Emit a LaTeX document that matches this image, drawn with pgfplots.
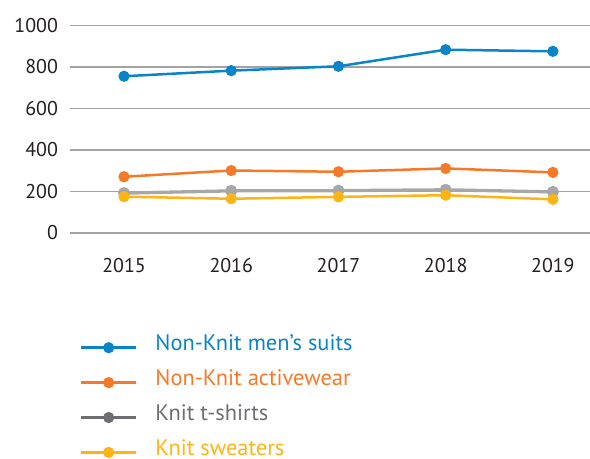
\documentclass[border=0pt]{standalone}
\usepackage{pgfplots}
\pgfplotsset{compat=1.18}
\usepackage{fontspec}
\setmainfont{PT Sans}
\definecolor{cblue}{HTML}{0A84C8}
\definecolor{corange}{HTML}{F47A2A}
\definecolor{cgray}{HTML}{A7A7A9}
\definecolor{cgrayd}{HTML}{6D6E71}
\definecolor{cyellow}{HTML}{FDB515}
\definecolor{cgrid}{HTML}{A3A3A3}
\definecolor{ctext}{HTML}{231F20}
\newcommand{\lgtext}[2]{\hspace{16bp}\raisebox{4bp}[\height][\depth]{\textcolor{#1}{#2}}}
\begin{document}
\begin{tikzpicture}[x=1bp,y=1bp]
\useasboundingbox (0,0) rectangle (590,459);
\begin{axis}[
  at={(70.4bp,226bp)}, anchor=south west,
  scale only axis, width=520bp, height=207.6bp,
  xmin=-0.5, xmax=4.35, ymin=0, ymax=1000,
  axis line style={draw=none},
  tick style={draw=none},
  ymajorgrids, grid style={cgrid, line width=1.4bp},
  ytick={0,200,...,1000},
  xtick={0,1,2,3,4},
  xticklabels={2015,2016,2017,2018,2019},
  /pgf/number format/1000 sep={},
  /pgf/number format/assume math mode=true,
  tick label style={font=\fontsize{20}{23}\selectfont, text=ctext},
  yticklabel style={xshift=-9bp},
  xticklabel style={yshift=-22bp},
  clip=false,
  legend style={at={(0.018,-0.50)}, anchor=north west, draw=none, fill=none,
    inner sep=0pt, row sep=13.5bp, font=\fontsize{22.5}{25}\selectfont,
    nodes={inner sep=2bp}},
  legend cell align=left,
  legend image code/.code={%
    \draw[#1, mark repeat=2, mark phase=2] plot coordinates {(0bp,0bp)(27.5bp,0bp)(55bp,0bp)};},
  every axis plot/.append style={mark=*, mark size=4.3bp, line width=2.5bp},
]
\addplot[cblue, mark options={fill=cblue}] coordinates {(0,755)(1,782)(2,803)(3,883)(4,875)};
\addlegendentry{\lgtext{cblue}{Non-Knit men’s suits}}
\addplot[corange, mark options={fill=corange}] coordinates {(0,271)(1,301)(2,295)(3,311)(4,292)};
\addlegendentry{\lgtext{corange}{Non-Knit activewear}}
\addplot[cgray, line width=3.3bp, mark options={fill=cgray}, forget plot] coordinates {(0,192)(1,203)(2,204)(3,208)(4,198)};
\addplot[cyellow, mark options={fill=cyellow}, forget plot] coordinates {(0,175)(1,165)(2,174)(3,182)(4,162)};
\addlegendimage{cgrayd, mark=*, mark size=4.3bp, line width=2.5bp, mark options={fill=cgrayd}}
\addlegendentry{\lgtext{cgrayd}{Knit t-shirts}}
\addlegendimage{cyellow, mark=*, mark size=4.3bp, line width=2.5bp, mark options={fill=cyellow}}
\addlegendentry{\lgtext{cyellow}{Knit sweaters}}
\end{axis}
\end{tikzpicture}
\end{document}
